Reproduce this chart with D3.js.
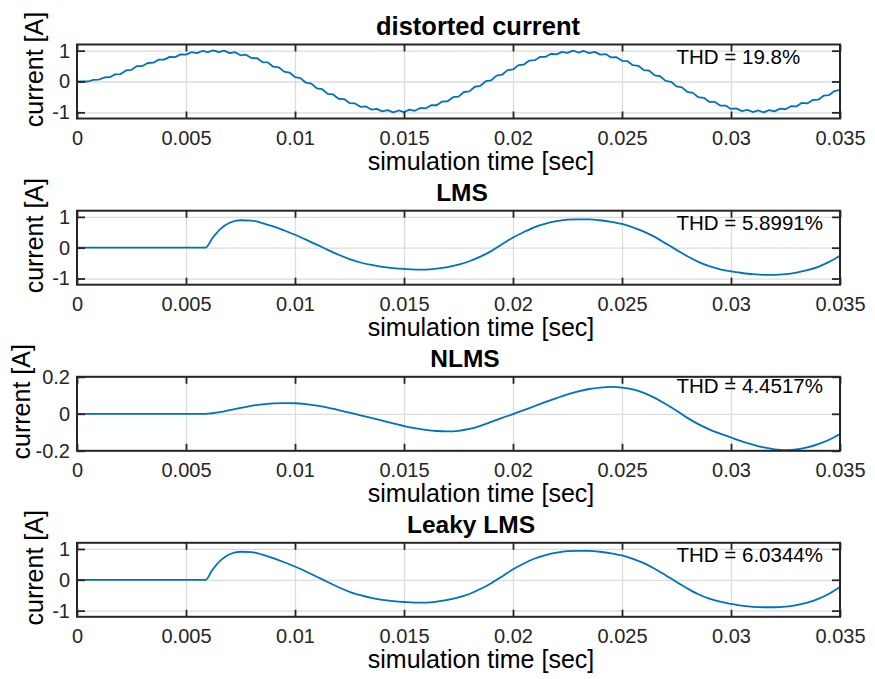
<!DOCTYPE html>
<html>
<head>
<meta charset="utf-8">
<script src="https://cdn.jsdelivr.net/npm/d3@7"></script>
<style>
  body { margin: 0; background: #fff; }
  svg { display: block; }
  text { font-family: "Liberation Sans", Arial, Helvetica, sans-serif; }
</style>
</head>
<body>
<div id="chart"></div>
<script>
const sampleStep = 0.00025;
const distorted = [
  0, 0, 0, 0.05, 0.06, 0.13, 0.14, 0.23, 0.24, 0.36,
  0.38, 0.50, 0.50, 0.60, 0.61, 0.71, 0.71, 0.80, 0.79, 0.88,
  0.87, 0.95, 0.92, 0.99, 0.95, 1.01, 0.95, 1.00, 0.92, 0.95,
  0.85, 0.87, 0.76, 0.76, 0.63, 0.62, 0.48, 0.46, 0.32, 0.29,
  0.14, 0.11, -0.04, -0.07, -0.22, -0.25, -0.40, -0.42, -0.56, -0.57,
  -0.70, -0.71, -0.82, -0.81, -0.91, -0.89, -0.97, -0.93, -1.00, -0.94,
  -0.99, -0.91, -0.95, -0.86, -0.87, -0.77, -0.77, -0.65, -0.64, -0.51,
  -0.49, -0.34, -0.32, -0.17, -0.14, 0.01, 0.04, 0.19, 0.22, 0.37,
  0.39, 0.53, 0.55, 0.68, 0.69, 0.80, 0.80, 0.90, 0.88, 0.96,
  0.93, 1.00, 0.94, 0.99, 0.92, 0.96, 0.87, 0.89, 0.78, 0.79,
  0.67, 0.66, 0.53, 0.51, 0.37, 0.35, 0.20, 0.17, 0.02, -0.01,
  -0.16, -0.19, -0.34, -0.37, -0.51, -0.53, -0.66, -0.66, -0.78, -0.78,
  -0.89, -0.87, -0.96, -0.92, -0.99, -0.94, -1.00, -0.93, -0.97, -0.88,
  -0.90, -0.80, -0.81, -0.69, -0.71, -0.60, -0.59, -0.46, -0.44, -0.31,
  -0.27
];

// filter outputs share one time base
const filterTime = [
  0, 0.0059, 0.0062, 0.0066, 0.007, 0.0075, 0.008, 0.0085, 0.009, 0.0095,
  0.01, 0.0105, 0.011, 0.0115, 0.012, 0.0125, 0.013, 0.0135, 0.014, 0.0145,
  0.015, 0.0155, 0.016, 0.0165, 0.017, 0.0175, 0.018, 0.0185, 0.019, 0.0195,
  0.02, 0.0205, 0.021, 0.0215, 0.022, 0.0225, 0.023, 0.0235, 0.024, 0.0245,
  0.025, 0.0255, 0.026, 0.0265, 0.027, 0.0275, 0.028, 0.0285, 0.029, 0.0295,
  0.03, 0.0305, 0.031, 0.0315, 0.032, 0.0325, 0.033, 0.0335, 0.034, 0.0345,
  0.035
];
const lms = [
  0, 0, 0.30, 0.62, 0.81, 0.89, 0.88, 0.80, 0.69, 0.56,
  0.42, 0.26, 0.10, -0.07, -0.23, -0.37, -0.48, -0.56, -0.62, -0.66,
  -0.69, -0.71, -0.71, -0.68, -0.63, -0.55, -0.44, -0.29, -0.11, 0.11,
  0.33, 0.51, 0.67, 0.78, 0.86, 0.91, 0.92, 0.92, 0.89, 0.84,
  0.77, 0.66, 0.52, 0.35, 0.14, -0.07, -0.28, -0.46, -0.60, -0.70,
  -0.77, -0.82, -0.86, -0.88, -0.88, -0.86, -0.81, -0.73, -0.62, -0.46,
  -0.26
];
const nlms = [
  0, 0, 0.003, 0.010, 0.020, 0.032, 0.043, 0.051, 0.056, 0.058,
  0.057, 0.052, 0.044, 0.033, 0.020, 0.006, -0.008, -0.022, -0.037, -0.052,
  -0.066, -0.078, -0.087, -0.093, -0.095, -0.092, -0.082, -0.065, -0.044, -0.022,
  -0.002, 0.020, 0.042, 0.064, 0.085, 0.105, 0.121, 0.134, 0.142, 0.145,
  0.142, 0.132, 0.113, 0.086, 0.053, 0.017, -0.022, -0.056, -0.084, -0.107,
  -0.128, -0.149, -0.167, -0.182, -0.192, -0.196, -0.193, -0.182, -0.164, -0.140,
  -0.109
];
const leakyLms = [
  0, 0, 0.31, 0.64, 0.83, 0.91, 0.90, 0.82, 0.70, 0.57,
  0.43, 0.27, 0.10, -0.07, -0.24, -0.39, -0.50, -0.59, -0.65, -0.69,
  -0.72, -0.74, -0.74, -0.71, -0.65, -0.57, -0.46, -0.30, -0.11, 0.11,
  0.34, 0.53, 0.69, 0.80, 0.88, 0.93, 0.94, 0.94, 0.91, 0.86,
  0.79, 0.68, 0.54, 0.36, 0.15, -0.07, -0.28, -0.47, -0.61, -0.71,
  -0.78, -0.84, -0.88, -0.89, -0.89, -0.87, -0.82, -0.74, -0.62, -0.45,
  -0.23
];

const titles = ["distorted current", "LMS", "NLMS", "Leaky LMS"];
const thdLabels = ["THD = 19.8%", "THD = 5.8991%", "THD = 4.4517%", "THD = 6.0344%"];
const xTicks = [0, 0.005, 0.01, 0.015, 0.02, 0.025, 0.03, 0.035];
const yTicksUnit = [-1, 0, 1];
const yTicksSmall = [-0.2, 0, 0.2];
const xLabel = "simulation time [sec]";
const yLabel = "current [A]";

const W = 875, H = 679;
const left = 77, right = 840, plotH = 74;
const panelTop = [44.5, 210.7, 376.8, 542.8];
const titleX = [478, 462, 465, 471];
const ink = "#262626";

const panels = [
  { data: distorted.map((v, i) => [i * sampleStep, v]), yDomain: [-1.2, 1.2], yTicks: yTicksUnit, thdY: 0.8, curve: d3.curveLinear },
  { data: filterTime.map((t, i) => [t, lms[i]]), yDomain: [-1.2, 1.2], yTicks: yTicksUnit, thdY: 0.8, curve: d3.curveMonotoneX },
  { data: filterTime.map((t, i) => [t, nlms[i]]), yDomain: [-0.2, 0.2], yTicks: yTicksSmall, thdY: 0.15, curve: d3.curveMonotoneX },
  { data: filterTime.map((t, i) => [t, leakyLms[i]]), yDomain: [-1.2, 1.2], yTicks: yTicksUnit, thdY: 0.8, curve: d3.curveMonotoneX }
];

const svg = d3.select("#chart").append("svg")
  .attr("width", W)
  .attr("height", H)
  .style("background", "#fff");

const x = d3.scaleLinear().domain([0, 0.035]).range([0, right - left]);
const fmt = d => d === 0 ? "0" : String(+d.toFixed(3));

panels.forEach((p, k) => {
  const top = panelTop[k];
  const y = d3.scaleLinear().domain(p.yDomain).range([plotH, 0]);
  const g = svg.append("g").attr("transform", `translate(${left},${top})`);

  // grid
  g.append("g")
    .attr("transform", `translate(0,${plotH})`)
    .call(d3.axisBottom(x).tickValues(xTicks).tickSize(-plotH).tickFormat(""))
    .call(s => s.select(".domain").remove())
    .call(s => s.selectAll("line").attr("stroke", "#dcdcdc").attr("stroke-width", 1.3));
  g.append("g")
    .call(d3.axisLeft(y).tickValues(p.yTicks).tickSize(-(right - left)).tickFormat(""))
    .call(s => s.select(".domain").remove())
    .call(s => s.selectAll("line").attr("stroke", "#dcdcdc").attr("stroke-width", 1.3));

  // signal
  g.append("path")
    .datum(p.data)
    .attr("fill", "none")
    .attr("stroke", "#0072BD")
    .attr("stroke-width", 1.8)
    .attr("stroke-linejoin", "round")
    .attr("d", d3.line().curve(p.curve).x(d => x(d[0])).y(d => y(d[1])));

  // THD annotation
  g.append("text")
    .attr("x", x(0.0275))
    .attr("y", y(p.thdY) + 7)
    .attr("font-size", 20.5)
    .attr("fill", "#000")
    .text(thdLabels[k]);

  // axes with inward ticks
  const styleAxis = s => {
    s.select(".domain").remove();
    s.selectAll("line").attr("stroke", ink).attr("stroke-width", 1.8);
    s.selectAll("text").attr("fill", ink).attr("font-size", 20)
      .attr("font-family", '"Liberation Sans", Arial, sans-serif');
  };
  g.append("g")
    .attr("transform", `translate(0,${plotH})`)
    .call(d3.axisBottom(x).tickValues(xTicks).tickSize(-7).tickPadding(12).tickFormat(fmt))
    .call(styleAxis);
  g.append("g")
    .call(d3.axisTop(x).tickValues(xTicks).tickSize(-7).tickFormat(""))
    .call(styleAxis);
  g.append("g")
    .call(d3.axisLeft(y).tickValues(p.yTicks).tickSize(-8).tickPadding(7).tickFormat(d => d === 0 ? "0" : String(d)))
    .call(styleAxis);
  g.append("g")
    .attr("transform", `translate(${right - left},0)`)
    .call(d3.axisRight(y).tickValues(p.yTicks).tickSize(-8).tickFormat(""))
    .call(styleAxis);

  g.append("rect")
    .attr("width", right - left)
    .attr("height", plotH)
    .attr("fill", "none")
    .attr("stroke", ink)
    .attr("stroke-width", 2);

  // title
  svg.append("text")
    .attr("x", titleX[k])
    .attr("y", top - 10)
    .attr("text-anchor", "middle")
    .attr("font-size", k === 0 ? 25.5 : 24.5)
    .attr("font-weight", "bold")
    .attr("fill", "#000")
    .text(titles[k]);

  // axis labels
  svg.append("text")
    .attr("x", 481)
    .attr("y", top + plotH + 51.5)
    .attr("text-anchor", "middle")
    .attr("font-size", 25)
    .attr("fill", "#000")
    .text(xLabel);

  svg.append("text")
    .attr("transform", `translate(${k === 2 ? 30 : 43},${top + plotH / 2 - 12}) rotate(-90)`)
    .attr("text-anchor", "middle")
    .attr("font-size", 25)
    .attr("fill", "#000")
    .text(yLabel);
});
</script>
</body>
</html>
